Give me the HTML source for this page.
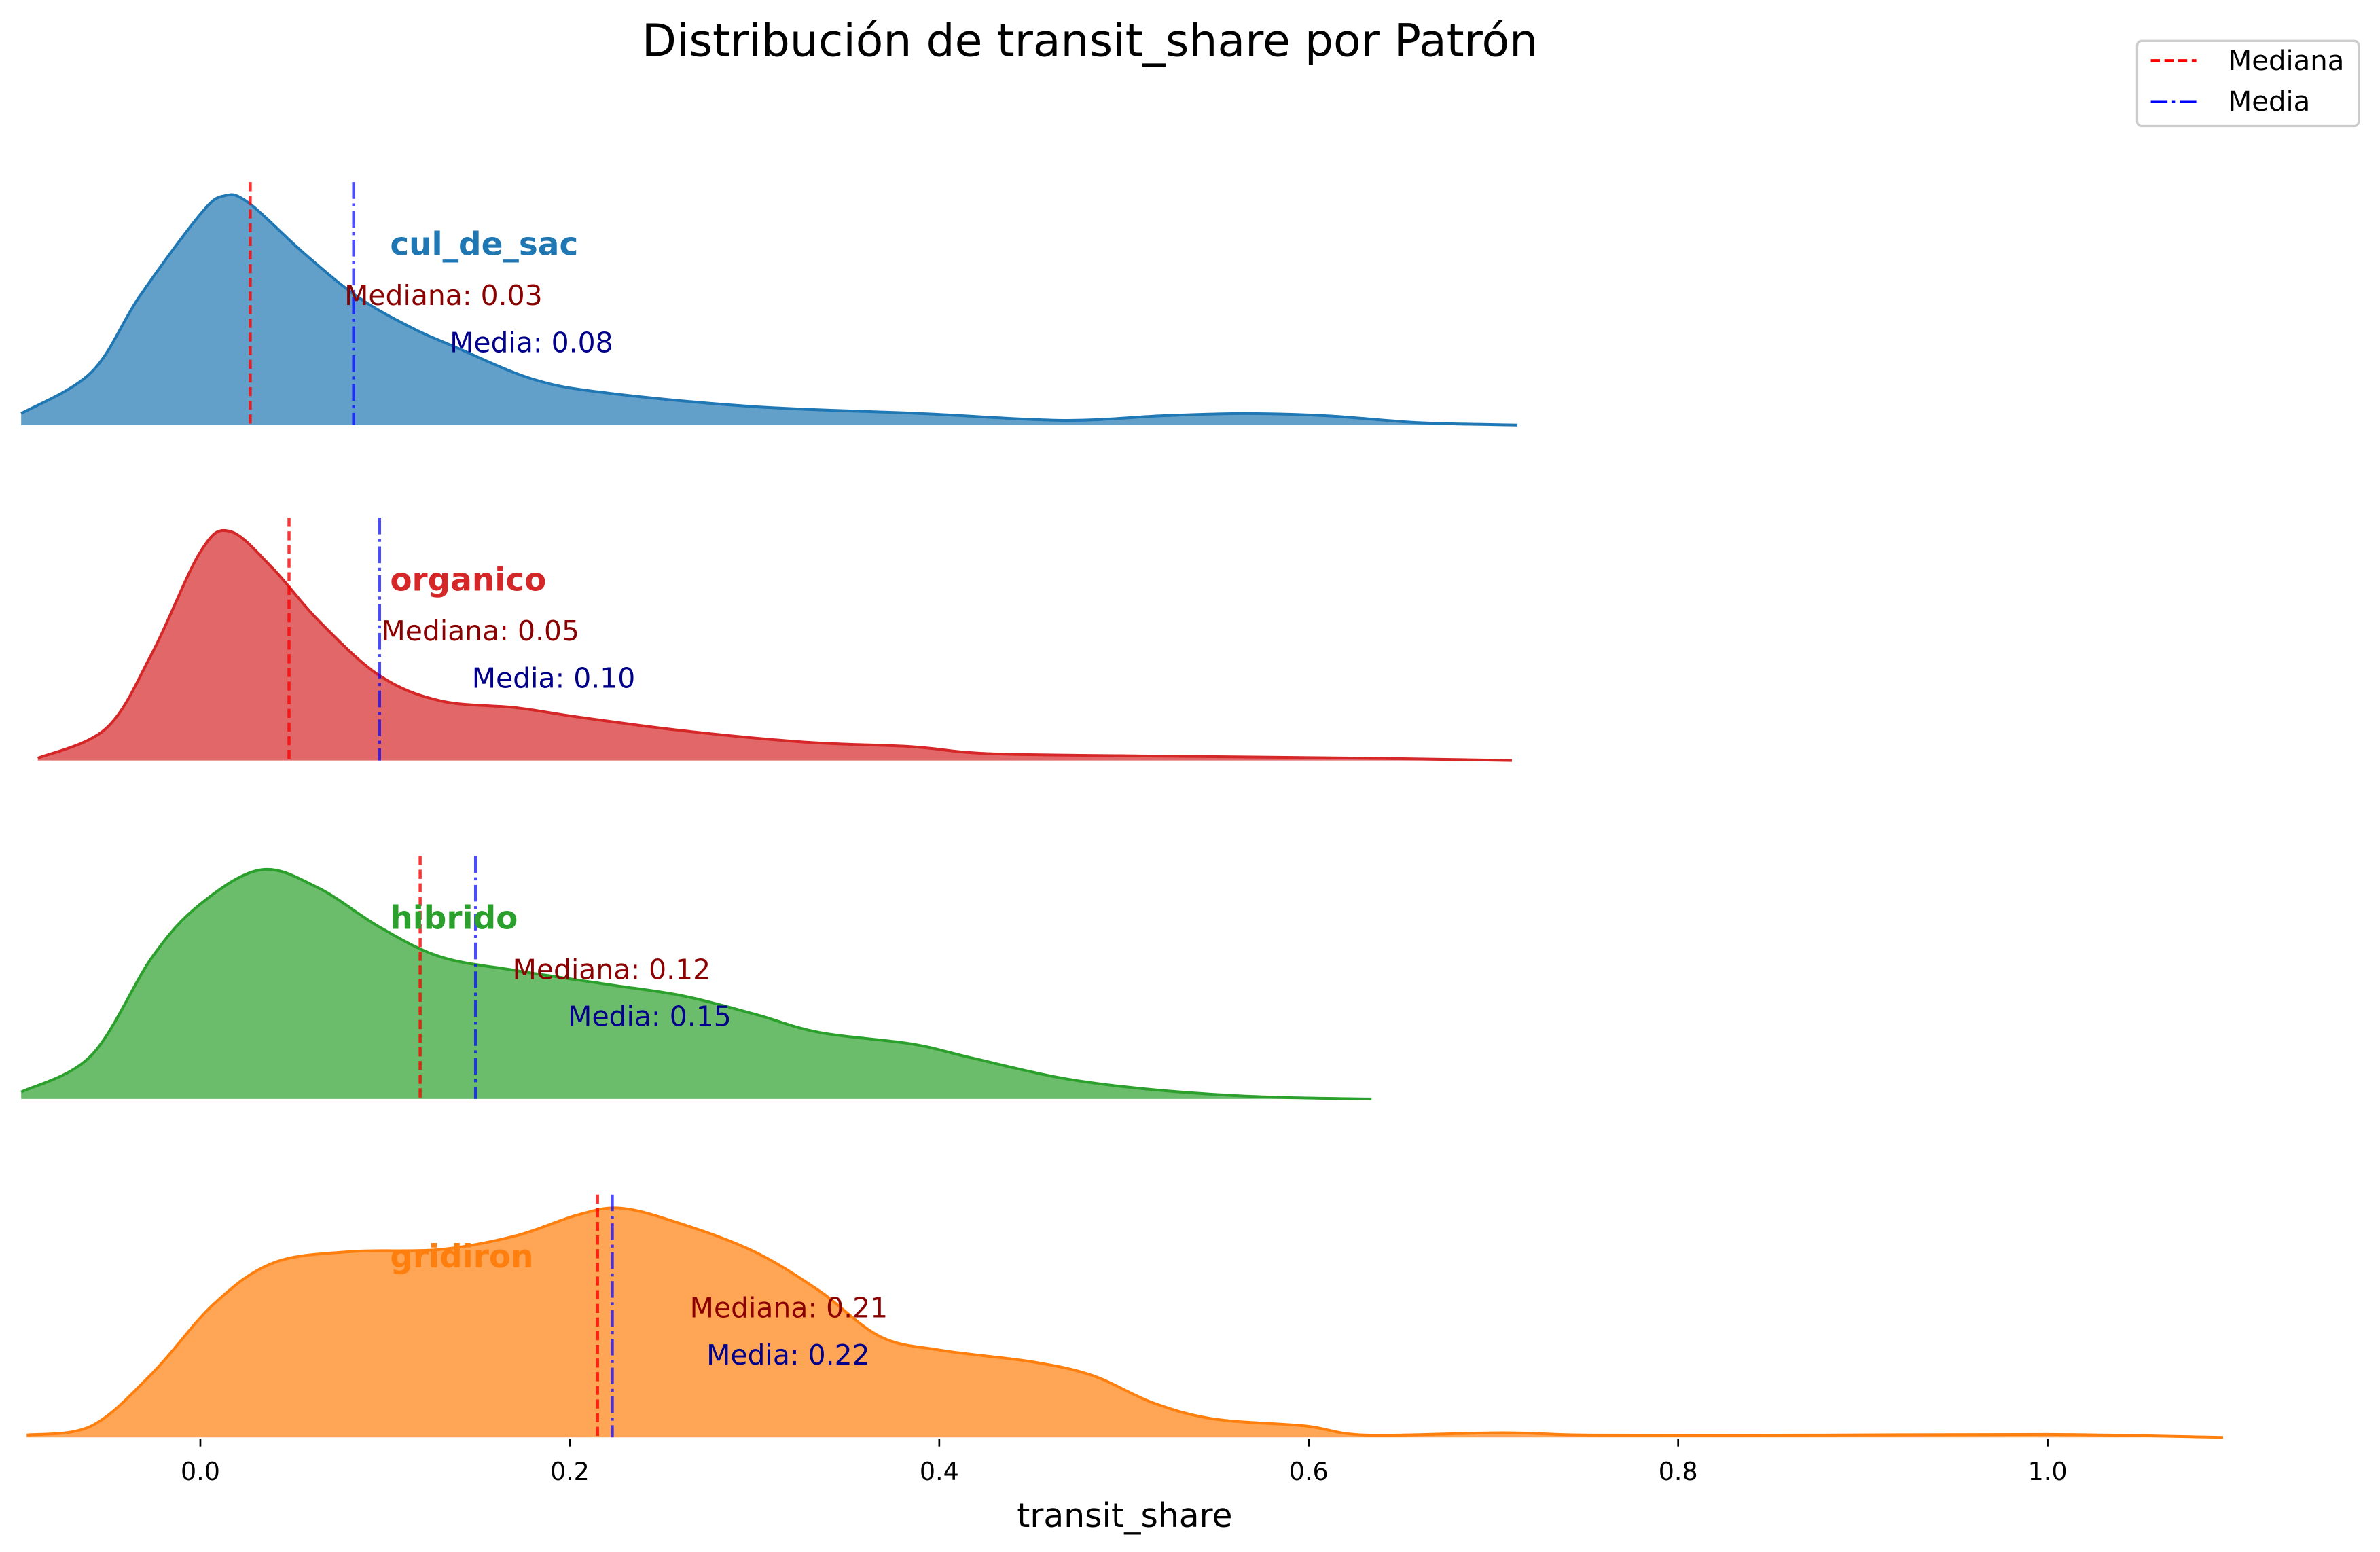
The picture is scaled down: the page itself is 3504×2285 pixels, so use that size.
<!DOCTYPE html>
<html><head><meta charset="utf-8"><style>html,body{margin:0;padding:0;background:#fff}svg{display:block}text{font-family:"DejaVu Sans","Liberation Sans",sans-serif}</style></head>
<body>
<svg id="chart" width="3504" height="2285" viewBox="0 0 1568 1022.5" xmlns="http://www.w3.org/2000/svg">
<text x="718" y="37" font-size="29.7" text-anchor="middle">Distribución de transit_share por Patrón</text>
<g id="ridges"></g>
<g id="xaxis"></g>
<text x="741" y="1006" font-size="21.8" text-anchor="middle">transit_share</text>
<g>
<rect x="1408" y="27" width="146" height="56" fill="#fff" stroke="#ccc" stroke-width="1.5" rx="3"/>
<line x1="1417" y1="40" x2="1447" y2="40" stroke="red" stroke-width="2" stroke-dasharray="6,3"/>
<text x="1468" y="46" font-size="18">Mediana</text>
<line x1="1417" y1="67" x2="1447" y2="67" stroke="blue" stroke-width="2" stroke-dasharray="11,3,2,3"/>
<text x="1468" y="73" font-size="18">Media</text>
</g>
</svg>
<script>
const categories = ["cul_de_sac","organico","hibrido","gridiron"];
const colors = ["#1f77b4","#d62728","#2ca02c","#ff7f0e"];
const medians = [0.027,0.048,0.119,0.215];
const means = [0.083,0.097,0.149,0.223];
const medianLabels = ["Mediana: 0.03","Mediana: 0.05","Mediana: 0.12","Mediana: 0.21"];
const meanLabels = ["Media: 0.08","Media: 0.10","Media: 0.15","Media: 0.22"];
const medianLabelX = [0.078,0.098,0.169,0.265];
const meanLabelX = [0.135,0.147,0.199,0.274];
const xs0 = [-0.097,-0.059,-0.033,0,0.013,0.026,0.056,0.085,0.113,0.138,0.18,0.22,0.30,0.39,0.467,0.52,0.565,0.61,0.66,0.713];
const d0 = [0.05,0.23,0.56,0.92,1.0,0.97,0.75,0.56,0.43,0.34,0.20,0.14,0.08,0.05,0.02,0.04,0.05,0.04,0.01,0];
const xs1 = [-0.088,-0.051,-0.026,0,0.016,0.039,0.064,0.097,0.13,0.171,0.204,0.261,0.327,0.385,0.426,0.508,0.631,0.71];
const d1 = [0.01,0.14,0.47,0.91,1.0,0.84,0.61,0.37,0.26,0.23,0.19,0.13,0.08,0.06,0.03,0.02,0.01,0];
const xs2 = [-0.097,-0.059,-0.026,0,0.033,0.064,0.097,0.13,0.171,0.22,0.261,0.30,0.335,0.385,0.417,0.467,0.516,0.573,0.634];
const d2 = [0.03,0.19,0.62,0.85,1.0,0.92,0.75,0.62,0.56,0.50,0.45,0.37,0.29,0.24,0.18,0.09,0.04,0.01,0];
const xs3 = [-0.094,-0.059,-0.026,0.007,0.039,0.08,0.13,0.171,0.204,0.228,0.261,0.30,0.335,0.368,0.401,0.45,0.483,0.516,0.549,0.598,0.631,0.705,0.754,0.877,1.0,1.095];
const d3 = [0.01,0.05,0.28,0.58,0.76,0.81,0.82,0.88,0.97,1.0,0.93,0.81,0.64,0.44,0.38,0.33,0.27,0.15,0.08,0.05,0.01,0.02,0.01,0.01,0.013,0];
const series = [[xs0,d0],[xs1,d1],[xs2,d2],[xs3,d3]];
const xTicks = [0,0.2,0.4,0.6,0.8,1.0];
const xTickLabels = ["0.0","0.2","0.4","0.6","0.8","1.0"];

const NS="http://www.w3.org/2000/svg";
const X = v => 132 + v*1217;
const baselines=[280,501,724,947];
const H = 151;
function mk(tag, attrs, parent){const e=document.createElementNS(NS,tag);for(const k in attrs)e.setAttribute(k,attrs[k]);parent.appendChild(e);return e;}
const ridges=document.getElementById('ridges');
categories.forEach((c,i)=>{
  const g=mk('g',{},ridges);
  
  
  const [xs,ds]=series[i]; const b=baselines[i];
  const pts=xs.map((x,j)=>[X(x), b-ds[j]*H]);
  let d='M'+pts[0][0]+','+pts[0][1];
  for(let j=0;j<pts.length-1;j++){
    const p0=pts[Math.max(j-1,0)],p1=pts[j],p2=pts[j+1],p3=pts[Math.min(j+2,pts.length-1)];
    const c1=[p1[0]+(p2[0]-p0[0])/6,p1[1]+(p2[1]-p0[1])/6];
    const c2=[p2[0]-(p3[0]-p1[0])/6,p2[1]-(p3[1]-p1[1])/6];
    d+=` C${c1[0]},${c1[1]} ${c2[0]},${c2[1]} ${p2[0]},${p2[1]}`;
  }
  const fill=mk('path',{d:d+` L${pts[pts.length-1][0]},${b} L${pts[0][0]},${b} Z`,fill:colors[i],'fill-opacity':0.7},g);
  
  
  const line=mk('path',{d:d,fill:'none',stroke:colors[i],'stroke-width':1.8},g);
  
  
  const top=b-H-9;
  const ml=mk('line',{x1:X(medians[i]),x2:X(medians[i]),y1:top,y2:b,stroke:'red','stroke-opacity':0.8,'stroke-width':2,'stroke-dasharray':'6,3'},g);
  
  
  const mn=mk('line',{x1:X(means[i]),x2:X(means[i]),y1:top,y2:b,stroke:'blue','stroke-opacity':0.7,'stroke-width':2,'stroke-dasharray':'11,3,2,3'},g);
  
  
  const t=mk('text',{x:257,y:b-112,'font-size':21,'font-weight':'bold',fill:colors[i]},g);
  t.textContent=c;
  
  
  const t2=mk('text',{x:X(medianLabelX[i]),y:b-79,'font-size':18.3,fill:'#8b0000'},g);
  t2.textContent=medianLabels[i];
  
  
  const t3=mk('text',{x:X(meanLabelX[i]),y:b-48,'font-size':18.3,fill:'#00008b'},g);
  t3.textContent=meanLabels[i];
  
  
});
const xa=document.getElementById('xaxis');
xTicks.forEach((v,i)=>{
  const tk=mk('line',{x1:X(v),x2:X(v),y1:948,y2:953,stroke:'#000','stroke-width':1.2},xa);
  
  
  const tl=mk('text',{x:X(v),y:975,'font-size':16.3,'text-anchor':'middle'},xa);
  tl.textContent=xTickLabels[i];
  
  
});
</script>
</body></html>
